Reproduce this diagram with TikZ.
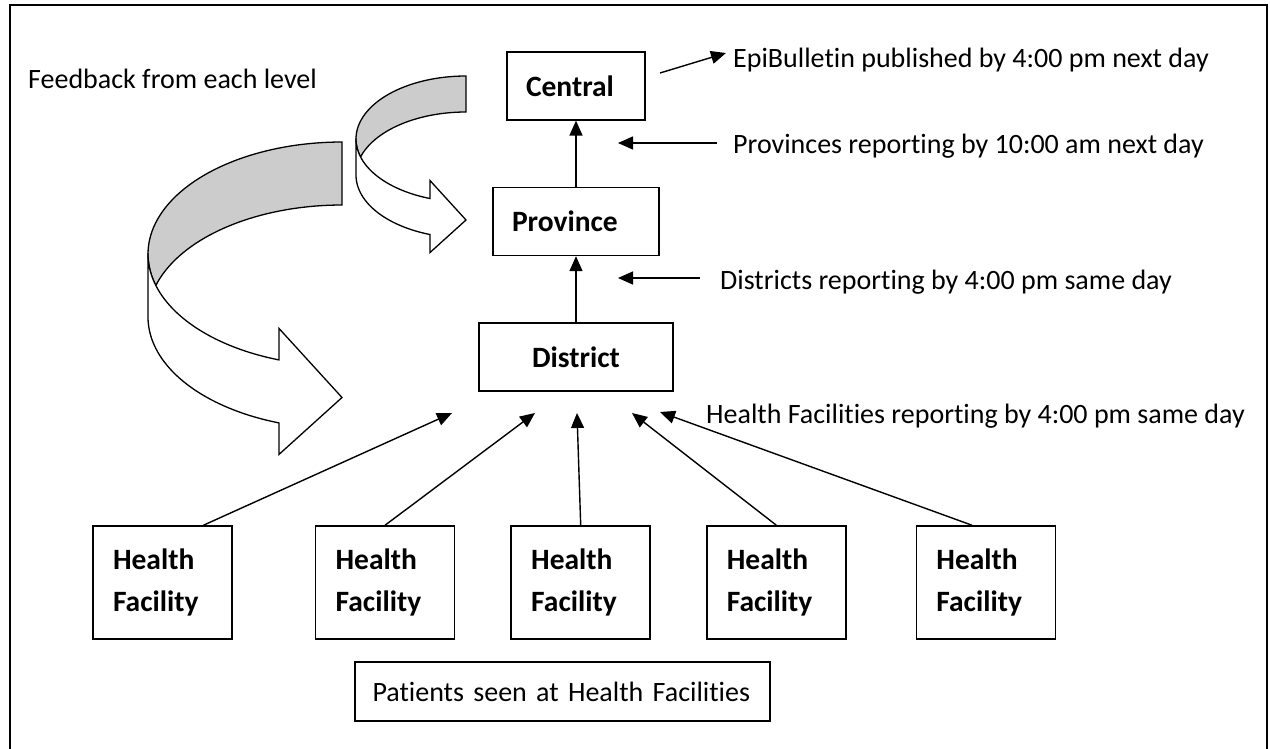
\documentclass[tikz,border=0pt]{standalone}
\usepackage{fontspec}
\setmainfont{Carlito}[Ligatures=NoCommon]
\usetikzlibrary{positioning,arrows.meta}

\tikzset{
  levelbox/.style={draw, line width=1.6pt, font=\fontsize{29.5}{42}\selectfont\bfseries, minimum height=68pt},
  facility/.style={levelbox, text width=99pt, inner xsep=20pt, align=left, minimum height=113pt},
  note/.style={inner sep=0pt, anchor=west},
  link/.style={line width=1.4pt, -{Triangle[length=15pt,width=13pt]}},
  ribbon back/.style={draw, line width=1.3pt, fill=gray!40},
  ribbon front/.style={draw, line width=1.3pt, fill=white},
}

% curved ribbon arrow: centre x, centre y, x radius, y radius, ribbon width
\newcommand{\feedbackarrow}[5]{%
  \pgfmathsetmacro{\fbturn}{180-asin(#5/(2*#4))}%
  \pgfmathsetmacro{\fbback}{360-\fbturn}%
  \pgfmathsetmacro{\fbbase}{acos(-#5/#3)}%
  \pgfmathsetmacro{\fbbasey}{#2+#4*sin(\fbbase)}%
  % inside of the ribbon at the back
  \filldraw[ribbon back] (#1,#2-#4)
    -- plot[domain=270:\fbturn,samples=50] ({#1+#3*cos(\x)},{#2+#4*sin(\x)})
    -- plot[domain=\fbback:270,samples=40] ({#1+#3*cos(\x)},{#2+#5+#4*sin(\x)})
    -- cycle;
  % front of the ribbon and its head
  \filldraw[ribbon front] (#1-#3,#2) -- (#1-#3,#2+#5)
    -- plot[domain=180:\fbbase,samples=40] ({#1+#3*cos(\x)},{#2+#5+#4*sin(\x)})
    -- (#1-#5,\fbbasey+#5+#5/2) -- (#1,#2+#4+#5/2) -- (#1-#5,\fbbasey-#5/2)
    -- plot[domain=\fbbase:180,samples=40] ({#1+#3*cos(\x)},{#2+#4*sin(\x)})
    -- cycle;
}

\begin{document}
\begin{tikzpicture}[x=1pt, y=-1pt, font=\fontsize{28}{34}\selectfont]
\useasboundingbox (0,0) rectangle (1270,749);
\draw[line width=1.8pt] (10,5) rectangle (1267,760);

% feedback ribbons
\feedbackarrow{342}{254}{194}{112}{63}
\feedbackarrow{466}{139}{110}{63}{36}
\node[note] (feedback) at (28,79) {Feedback from each level};

% reporting levels
\node[levelbox, minimum width=194pt] (district) at (576,357) {District};
\node[levelbox, text width=128pt, inner xsep=19pt, align=left, above=66pt of district] (province) {Province};
\node[levelbox, text width=100pt, inner xsep=19pt, align=left, above=66pt of province] (central) {Central};

\draw[link] (district) -- (province);
\draw[link] (province) -- (central);

% health facilities along the bottom
\node[facility] (hf1) at (162.5,582.5) {Health\\Facility};
\node[facility, right=82pt of hf1] (hf2) {Health\\Facility};
\node[facility, right=55pt of hf2] (hf3) {Health\\Facility};
\node[facility, right=55pt of hf3] (hf4) {Health\\Facility};
\node[facility, right=69pt of hf4] (hf5) {Health\\Facility};

\node[draw, line width=1.6pt, text width=380pt, inner xsep=17.5pt, align=left, minimum height=59pt] (patients) at (562.5,691.5) {Patients seen at Health Facilities};

% timing notes
\node[note] (epi) at (733,60) {EpiBulletin published by 4:00 pm next day};
\node[note] (provtime) at (733,146) {Provinces reporting by 10:00 am next day};
\node[note] (disttime) at (720,282) {Districts reporting by 4:00 pm same day};
\node[note] (hftime) at (706,416) {Health Facilities reporting by 4:00 pm same day};

\coordinate (epi tail) at (660,73);
\coordinate (epi head) at (726,53);
\coordinate (prov tail) at (717,143);
\coordinate (prov head) at (618,143);
\coordinate (dist tail) at (700,278);
\coordinate (dist head) at (618,278);
\draw[link] (epi tail) -- (epi head);
\draw[link] (prov tail) -- (prov head);
\draw[link] (dist tail) -- (dist head);

% facility reports converging under the district
\coordinate (in1) at (452,413);
\coordinate (in2) at (535,413);
\coordinate (in3) at (577,413);
\coordinate (in4) at (632,413);
\coordinate (in5) at (660,412);
\draw[link] ([xshift=41pt]hf1.north) -- (in1);
\draw[link] (hf2.north) -- (in2);
\draw[link] (hf3.north) -- (in3);
\draw[link] (hf4.north) -- (in4);
\draw[link] ([xshift=-14pt]hf5.north) -- (in5);
\end{tikzpicture}
\end{document}
